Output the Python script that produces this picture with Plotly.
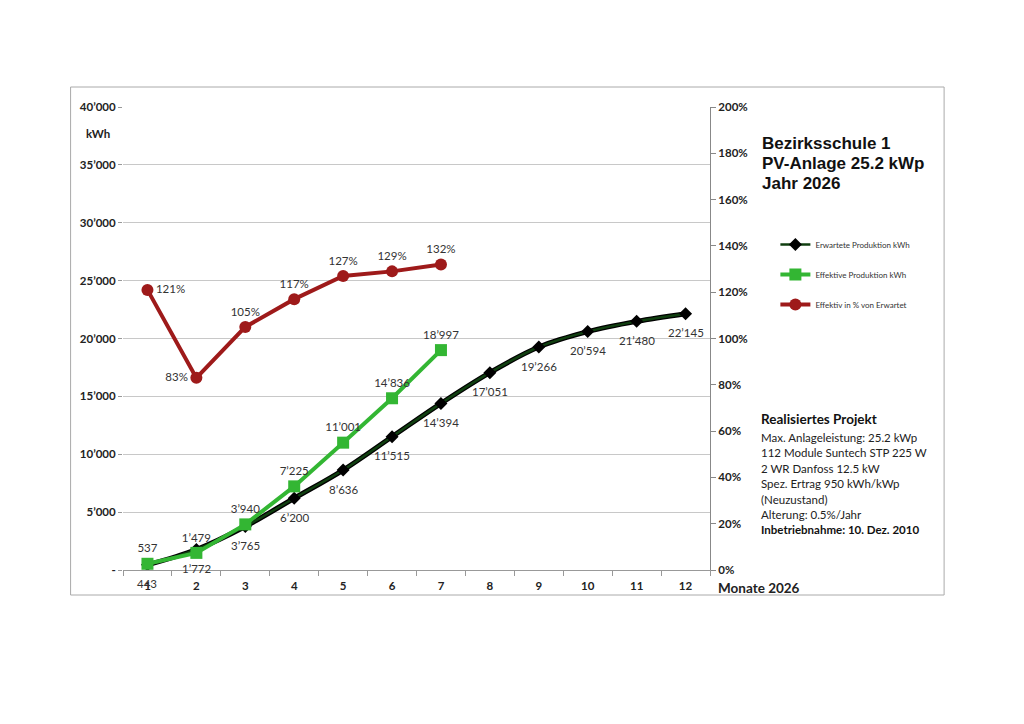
import plotly.graph_objects as go

months = ["1", "2", "3", "4", "5", "6", "7", "8", "9", "10", "11", "12"]
erwartet = [443, 1772, 3765, 6200, 8636, 11515, 14394, 17051, 19266, 20594, 21480, 22145]
effektiv = [537, 1479, 3940, 7225, 11001, 14836, 18997]
prozent = [1.21, 0.83, 1.05, 1.17, 1.27, 1.29, 1.32]
kwh_ticks = [0, 5000, 10000, 15000, 20000, 25000, 30000, 35000, 40000]
kwh_ticklabels = ["-", "5’000", "10’000", "15’000", "20’000", "25’000", "30’000", "35’000", "40’000"]

W, H = 1024, 724
OFF = 8  # page body margin
L, R, T, B = 122.5, 710.5, 107, 570


def px(x):
    return (x - L) / (R - L)


def py(y):
    return (B - y) / (B - T)


def fmt(v):
    return f"{v:,}".replace(",", "’")


FONT = "Lato, Liberation Sans, sans-serif"
DARK = "#103f10"
GREEN = "#33b633"
RED = "#9e1a1a"
LBL = "#333333"

fig = go.Figure()

fig.add_trace(go.Scatter(
    x=months, y=erwartet, mode="lines", line=dict(color="black", width=5, shape="spline"),
    showlegend=False, hoverinfo="skip"))
fig.add_trace(go.Scatter(
    x=months, y=erwartet, mode="lines+markers", name="Erwartete Produktion kWh",
    line=dict(color=DARK, width=2.5, shape="spline"),
    marker=dict(symbol="diamond", size=10, color="black"),
    legendgroup="a"))
fig.add_trace(go.Scatter(
    x=months[:len(effektiv)], y=effektiv, mode="lines+markers+text", name="Effektive Produktion kWh",
    line=dict(color=GREEN, width=4),
    marker=dict(symbol="square", size=12, color=GREEN),
    text=[fmt(v) for v in effektiv], textposition="top center",
    textfont=dict(family=FONT, size=11.5, color=LBL),
    legendgroup="b"))
fig.add_trace(go.Scatter(
    x=months[:len(prozent)], y=prozent, mode="lines+markers+text", name="Effektiv in % von Erwartet",
    yaxis="y2",
    line=dict(color=RED, width=4),
    marker=dict(symbol="circle", size=12, color=RED),
    text=[f"{round(p*100)}%" for p in prozent],
    textposition=["middle right", "middle left", "top center", "top center", "top center", "top center", "top center"],
    textfont=dict(family=FONT, size=11.5, color=LBL),
    legendgroup="c"))

fig.update_layout(
    width=W, height=H,
    margin=dict(l=L - OFF, r=W - R + OFF, t=T - OFF, b=H - B + OFF, pad=0),
    paper_bgcolor="white", plot_bgcolor="white",
    font=dict(family=FONT, color="#222222"),
    showlegend=True,
    legend=dict(x=px(776), y=py(230), xanchor="left", yanchor="top",
                font=dict(family=FONT, size=8, color=LBL),
                traceorder="grouped", tracegroupgap=11, itemwidth=30,
                bgcolor="rgba(0,0,0,0)"),
    xaxis=dict(type="category", range=[-0.5, 11.5], tickson="boundaries",
               ticks="outside", ticklen=5, tickcolor="#999999", ticklabelstandoff=5,
               showline=True, linecolor="#999999", linewidth=1,
               showgrid=False, zeroline=False,
               tickfont=dict(family=FONT, size=11.5, color="#222222", weight="bold")),
    yaxis=dict(range=[0, 40000], tickvals=kwh_ticks, ticktext=kwh_ticklabels,
               ticks="outside", ticklen=4, tickcolor="#999999",
               showgrid=True, gridcolor="#c8c8c8", gridwidth=1,
               showline=False, zeroline=False,
               tickfont=dict(family=FONT, size=11.5, color="#222222", weight="bold")),
    yaxis2=dict(overlaying="y", side="right", range=[0, 2], dtick=0.2, tickformat=".0%",
                ticks="outside", ticklen=5, tickcolor="#888888",
                showline=True, linecolor="#888888", linewidth=1,
                showgrid=False, zeroline=False,
                tickfont=dict(family=FONT, size=11.5, color="#222222", weight="bold")),
)

fig.add_shape(type="rect", xref="paper", yref="paper",
              x0=px(70), x1=px(945), y0=py(595), y1=py(87),
              line=dict(color="#aaaaaa", width=1), fillcolor="rgba(0,0,0,0)", layer="below")

ann = []
# data labels of the expected series, placed below their points (category index on x)
for i, v in enumerate(erwartet):
    ann.append(dict(text=fmt(v), x=i, y=v, xref="x", yref="y", yshift=-19,
                    xanchor="center", yanchor="middle",
                    font=dict(family=FONT, size=11.5, color=LBL)))
ann.append(dict(text="kWh", x=px(97), y=py(133), xanchor="center", yanchor="middle",
                font=dict(family=FONT, size=11.5, color="#222222", weight="bold")))
ann.append(dict(text="Monate 2026", x=px(717), y=py(588), xanchor="left", yanchor="middle",
                font=dict(family=FONT, size=13.5, color="#222222", weight="bold")))
for i, line in enumerate(["Bezirksschule 1", "PV-Anlage 25.2 kWp", "Jahr 2026"]):
    ann.append(dict(text=line, x=px(761), y=py(143 + i * 20), xanchor="left", yanchor="middle",
                    font=dict(family="Liberation Sans, Arial, sans-serif", size=17, color="#111111",
                              weight="bold")))
proj = ["Max. Anlageleistung: 25.2 kWp", "112 Module Suntech STP 225 W", "2 WR Danfoss 12.5 kW",
        "Spez. Ertrag 950 kWh/kWp", "(Neuzustand)", "Alterung: 0.5%/Jahr"]
ann.append(dict(text="Realisiertes Projekt", x=px(760), y=py(419), xanchor="left", yanchor="middle",
                font=dict(family=FONT, size=13.5, color="#111111", weight="bold")))
ys = [437, 452, 468, 483, 499, 514]
for line, yy in zip(proj, ys):
    ann.append(dict(text=line, x=px(760), y=py(yy), xanchor="left", yanchor="middle",
                    font=dict(family=FONT, size=11.5, color="#222222")))
ann.append(dict(text="Inbetriebnahme: 10. Dez. 2010", x=px(760), y=py(529), xanchor="left",
                yanchor="middle", font=dict(family=FONT, size=11.5, color="#111111", weight="bold")))
for a in ann:
    a.setdefault("xref", "paper")
    a.setdefault("yref", "paper")
    a["showarrow"] = False
fig.update_layout(annotations=ann)

fig.write_html("out.html")
